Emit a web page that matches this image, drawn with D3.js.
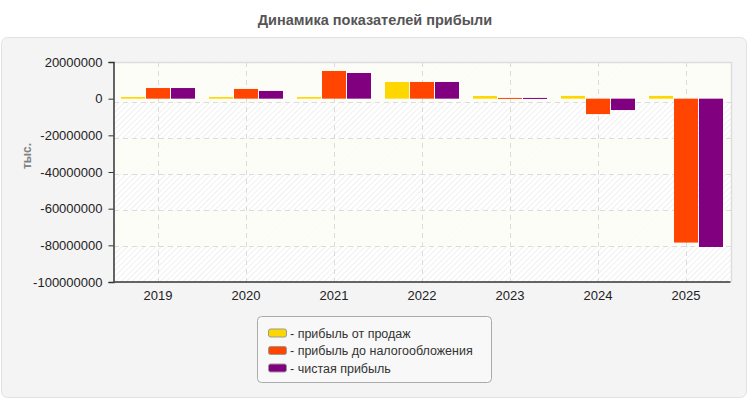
<!DOCTYPE html>
<html>
<head>
<meta charset="utf-8">
<script src="https://cdn.jsdelivr.net/npm/d3@7"></script>
<style>
  body { margin: 0; background: #fff; }
  svg text { font-family: "Liberation Sans", Arial, sans-serif; }
</style>
</head>
<body>
<div id="chart"></div>
<script>
var w = 750; // page width
var h = 400; // page height

// Data
var years = ["2019", "2020", "2021", "2022", "2023", "2024", "2025"];
var seriesNames = ["прибыль от продаж", "прибыль до налогообложения", "чистая прибыль"];
var seriesColors = ["#ffd700", "#ff4500", "#800080"];
var salesProfit = [900000, 900000, 900000, 9100000, 1450000, 1500000, 1500000];
var preTaxProfit = [5800000, 5300000, 15100000, 9100000, 400000, -8400000, -78500000];
var netProfit = [5800000, 4200000, 14000000, 9100000, 400000, -6200000, -80900000];
var yTicks = [20000000, 0, -20000000, -40000000, -60000000, -80000000, -100000000];

var seriesValues = [salesProfit, preTaxProfit, netProfit];

var plot = { left: 114, right: 731, top: 62, bottom: 282 };

var svg = d3.select("#chart")
    .append("svg")
    .attr("width", w)
    .attr("height", h);

var defs = svg.append("defs");
var pat = defs.append("pattern")
    .attr("id", "hatch")
    .attr("patternUnits", "userSpaceOnUse")
    .attr("width", 4)
    .attr("height", 4)
    .attr("patternTransform", "rotate(45)");
pat.append("rect").attr("width", 4).attr("height", 4).attr("fill", "#ffffff");
pat.append("line")
    .attr("x1", 0).attr("y1", 0).attr("x2", 0).attr("y2", 4)
    .attr("stroke", "#ededed")
    .attr("stroke-width", 1.6);

// Title
svg.append("text")
    .attr("x", 375)
    .attr("y", 25)
    .attr("text-anchor", "middle")
    .style("font-size", "14.5px")
    .style("font-weight", "bold")
    .attr("fill", "#555")
    .text("Динамика показателей прибыли");

// Outer panel
svg.append("rect")
    .attr("x", 1.5)
    .attr("y", 37.5)
    .attr("width", 745)
    .attr("height", 360)
    .attr("rx", 6)
    .attr("fill", "#f4f4f4")
    .attr("stroke", "#e2e2e2");

// Scales
var xScale = d3.scaleBand()
    .domain(years)
    .range([plot.left, plot.right - 1]);

var xInner = d3.scaleBand()
    .domain(d3.range(seriesNames.length))
    .range([7, xScale.bandwidth() - 7])
    .paddingInner(0.04);

var yScale = d3.scaleLinear()
    .domain([-100000000, 20000000])
    .range([plot.bottom, plot.top]);

// grid lines sit a little lower than the ticks in the reference
var yGrid = d3.scaleLinear()
    .domain([-100000000, 20000000])
    .range([plot.bottom, plot.top + 4]);

// Plot background with hatch and alternating cream bands
svg.append("rect")
    .attr("x", plot.left)
    .attr("y", plot.top)
    .attr("width", plot.right - plot.left)
    .attr("height", plot.bottom - plot.top)
    .attr("fill", "url(#hatch)");

var bandPairs = [];
for (var i = 0; i < yTicks.length - 1; i += 2) {
    bandPairs.push([yTicks[i], yTicks[i + 1]]);
}
svg.selectAll("rect.band")
    .data(bandPairs)
    .enter()
    .append("rect")
    .attr("class", "band")
    .attr("x", plot.left)
    .attr("y", function(d, i) { return i === 0 ? plot.top : yGrid(d[0]); })
    .attr("width", plot.right - plot.left)
    .attr("height", function(d, i) { return yGrid(d[1]) - (i === 0 ? plot.top : yGrid(d[0])); })
    .attr("fill", "#fdfdf6")
    .attr("opacity", 0.85);

// Horizontal grid
svg.selectAll("line.hgrid")
    .data(yTicks.slice(1, -1))
    .enter()
    .append("line")
    .attr("class", "hgrid")
    .attr("x1", plot.left)
    .attr("x2", plot.right)
    .attr("y1", function(d) { return Math.round(yGrid(d)) + 0.5; })
    .attr("y2", function(d) { return Math.round(yGrid(d)) + 0.5; })
    .attr("stroke", "#dcdcdc")
    .attr("stroke-dasharray", "5,4");

// Vertical grid
svg.selectAll("line.vgrid")
    .data(years)
    .enter()
    .append("line")
    .attr("class", "vgrid")
    .attr("x1", function(d) { return Math.round(xScale(d) + xScale.bandwidth() / 2) + 0.5; })
    .attr("x2", function(d) { return Math.round(xScale(d) + xScale.bandwidth() / 2) + 0.5; })
    .attr("y1", plot.top)
    .attr("y2", plot.bottom)
    .attr("stroke", "#dcdcdc")
    .attr("stroke-dasharray", "5,4");

// Plot border (top and right)
svg.append("path")
    .attr("d", "M" + plot.left + "," + (plot.top + 0.5) + "H" + (plot.right + 0.5) + "V" + plot.bottom)
    .attr("fill", "none")
    .attr("stroke", "#dddddd")
    .attr("stroke-width", 1.5);

// Bars
var groups = svg.selectAll("g.year")
    .data(years)
    .enter()
    .append("g")
    .attr("class", "year")
    .attr("transform", function(d) { return "translate(" + xScale(d) + ",0)"; });

groups.selectAll("rect")
    .data(function(d, yi) {
        return seriesValues.map(function(vals, si) { return { s: si, v: vals[yi] }; });
    })
    .enter()
    .append("rect")
    .attr("x", function(d) { return xInner(d.s); })
    .attr("width", xInner.bandwidth())
    .attr("y", function(d) { return yScale(Math.max(0, d.v)); })
    .attr("height", function(d) { return Math.max(1, Math.abs(yScale(d.v) - yScale(0))); })
    .attr("fill", function(d) { return seriesColors[d.s]; });

// Y axis (plain hyphen for negatives, like the reference)
var yAxis = d3.axisLeft(yScale)
    .tickValues(yTicks)
    .tickSize(5)
    .tickPadding(6)
    .tickFormat(function(d) { return String(d); });
var gy = svg.append("g")
    .attr("transform", "translate(" + (plot.left - 0.5) + ",0)")
    .call(yAxis);
gy.select(".domain").attr("stroke", "#333").attr("stroke-width", 1.5);
gy.selectAll(".tick line").attr("stroke", "#333");
gy.selectAll(".tick text")
    .style("font-size", "13px")
    .style("font-family", "'Liberation Sans', Arial, sans-serif")
    .attr("fill", "#222");

// X axis
var xAxis = d3.axisBottom(xScale).tickSize(0).tickPadding(9);
var gx = svg.append("g")
    .attr("transform", "translate(0," + (plot.bottom - 0.5) + ")")
    .call(xAxis);
gx.select(".domain").attr("stroke", "#333").attr("stroke-width", 1.5);
gx.selectAll(".tick text")
    .style("font-size", "13px")
    .style("font-family", "'Liberation Sans', Arial, sans-serif")
    .attr("fill", "#222");

// Y axis label
svg.append("text")
    .attr("transform", "rotate(-90)")
    .attr("x", -156)
    .attr("y", 31)
    .attr("text-anchor", "middle")
    .style("font-size", "12px")
    .style("font-weight", "bold")
    .attr("fill", "#808080")
    .text("тыс.");

// Legend
var legend = svg.append("g").attr("transform", "translate(257,316)");
legend.append("rect")
    .attr("x", 0.5)
    .attr("y", 0.5)
    .attr("width", 234)
    .attr("height", 66)
    .attr("rx", 4)
    .attr("fill", "#f8f8f8")
    .attr("stroke", "#aaaaaa");

var items = legend.selectAll("g.item")
    .data(seriesNames)
    .enter()
    .append("g")
    .attr("class", "item")
    .attr("transform", function(d, i) { return "translate(11," + (12.5 + i * 17.5) + ")"; });

items.append("rect")
    .attr("x", 0.5)
    .attr("y", 0.5)
    .attr("width", 18)
    .attr("height", 8)
    .attr("rx", 2)
    .attr("fill", function(d, i) { return seriesColors[i]; })
    .attr("stroke", "#999");

items.append("text")
    .attr("x", 22)
    .attr("y", 9)
    .style("font-size", "12.5px")
    .attr("fill", "#333")
    .text(function(d) { return "- " + d; });
</script>
</body>
</html>
